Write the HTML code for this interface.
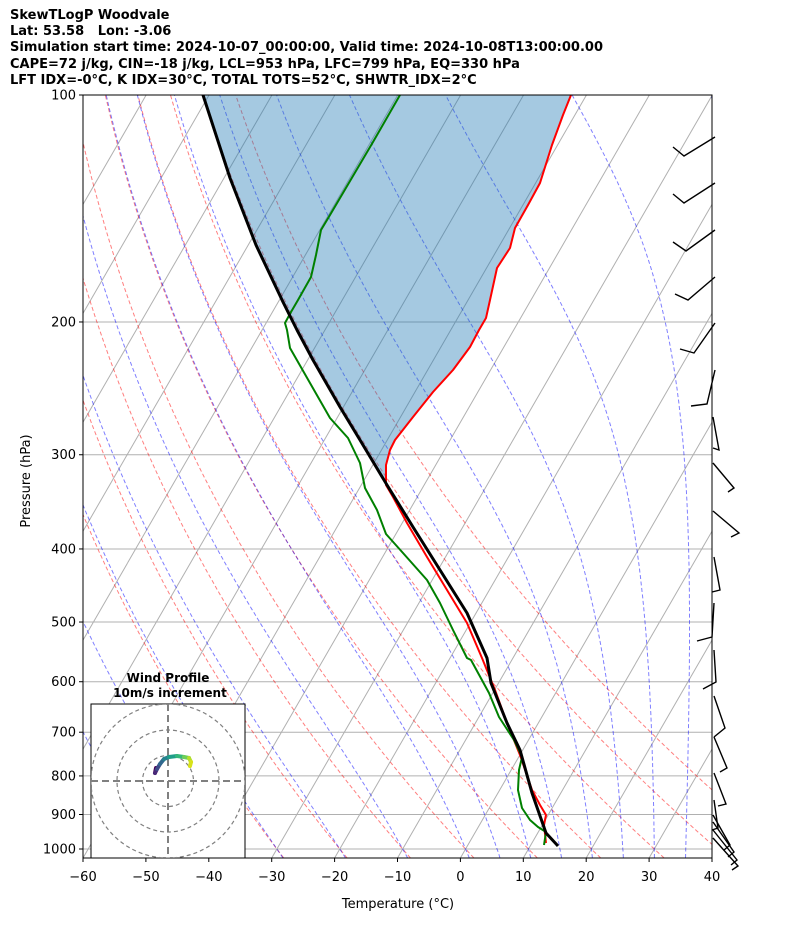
<!DOCTYPE html>
<html><head><meta charset="utf-8">
<style>
html,body{margin:0;padding:0;background:#fff;}
body{width:794px;height:937px;overflow:hidden;font-family:"DejaVu Sans","Liberation Sans",sans-serif;}
.t{position:absolute;left:10px;font-weight:bold;font-size:13px;white-space:nowrap;color:#000;}
</style></head><body>
<div class="t" style="top:8px">SkewTLogP Woodvale</div>
<div class="t" style="top:24px">Lat: 53.58&nbsp;&nbsp;&nbsp;Lon: -3.06</div>
<div class="t" style="top:40px">Simulation start time: 2024-10-07_00:00:00, Valid time: 2024-10-08T13:00:00.00</div>
<div class="t" style="top:57px">CAPE=72 j/kg, CIN=-18 j/kg, LCL=953 hPa, LFC=799 hPa, EQ=330 hPa</div>
<div class="t" style="top:73px">LFT IDX=-0°C, K IDX=30°C, TOTAL TOTS=52°C, SHWTR_IDX=2°C</div>
<svg id="s" width="794" height="937" style="position:absolute;left:0;top:0" xmlns="http://www.w3.org/2000/svg">
<defs><clipPath id="c"><rect x="83" y="95" width="629" height="763"/></clipPath>
<clipPath id="c2"><rect x="91" y="704" width="154" height="154"/></clipPath></defs>
<g id="bg" clip-path="url(#c)"></g>
<g id="fg" clip-path="url(#c)"></g>
<g id="ax"></g>
<g id="barbs" stroke="#000" stroke-width="1.4" fill="none"></g>
<text x="398" y="908" font-size="13" text-anchor="middle" font-family="DejaVu Sans, sans-serif">Temperature (°C)</text>
<text transform="translate(30,481) rotate(-90)" font-size="13" text-anchor="middle" font-family="DejaVu Sans, sans-serif">Pressure (hPa)</text>
<text x="168" y="682" font-size="12" font-weight="bold" text-anchor="middle" font-family="DejaVu Sans, sans-serif">Wind Profile</text>
<text x="170" y="697" font-size="12" font-weight="bold" text-anchor="middle" font-family="DejaVu Sans, sans-serif">10m/s increment</text>
<rect x="91" y="704" width="154" height="154" fill="#fff" stroke="#000" stroke-width="1"/>
<g id="hodo" clip-path="url(#c2)"></g>
</svg>
<script>
var NS='http://www.w3.org/2000/svg';
function el(p,t,a){var e=document.createElementNS(NS,t);for(var k in a)e.setAttribute(k,a[k]);p.appendChild(e);return e;}
function Y(p){return 95+754*Math.log10(p/100);}
function X(T,y){return 83+(T+60)*6.29+0.5774*(858-y);}
var bg=document.getElementById('bg'),fg=document.getElementById('fg'),ax=document.getElementById('ax');
var PB=100*Math.pow(10,763/754);
for(var T=-180;T<=40;T+=10){var y1=858,y2=95;el(bg,'line',{x1:X(T,y1),y1:y1,x2:X(T,y2),y2:y2,stroke:'#b0b0b0','stroke-width':1});}
[100,200,300,400,500,600,700,800,900,1000].forEach(function(p){el(bg,'line',{x1:83,x2:712,y1:Y(p),y2:Y(p),stroke:'#b0b0b0','stroke-width':1});});
var ps=[];for(var p=PB;p>=99;p-=5)ps.push(p);ps.push(100);
for(var t0=-30;t0<=50;t0+=10){var th=t0+273.15,d='';ps.forEach(function(p,i){var T=th*Math.pow(p/1000,0.2857)-273.15,y=Y(p);d+=(i?'L':'M')+X(T,y).toFixed(1)+','+y.toFixed(1);});
el(bg,'path',{d:d,fill:'none',stroke:'rgba(255,0,0,0.5)','stroke-width':1,'stroke-dasharray':'4,2.5'});}
function es(T){return 6.112*Math.exp(17.67*T/(T+243.5));}
function dTdp(p,Tk){var T=Tk-273.15,e=es(T),rs=0.622*e/(p-e),Rd=287.04,Lv=2.501e6,Cp=1005.7;
return (Rd*Tk+Lv*rs)/(Cp+Lv*Lv*rs*0.622/(Rd*Tk*Tk))/p;}
function integ(Tk,p0,p1,n){var pts=[],h=(p1-p0)/n,p=p0;for(var i=0;i<=n;i++){pts.push([p,Tk]);var k1=dTdp(p,Tk),k2=dTdp(p+h/2,Tk+h/2*k1),k3=dTdp(p+h/2,Tk+h/2*k2),k4=dTdp(p+h,Tk+h*k3);Tk+=h/6*(k1+2*k2+2*k3+k4);p+=h;}return pts;}
var mt=[-50,-40,-30,-20,-10,0,5,10,15,20,25,30,35,40,45];
mt.forEach(function(t0){var up=integ(t0+273.15,1000,100,180),dn=integ(t0+273.15,1000,PB,10);var pts=dn.reverse().concat(up.slice(1));var d='';pts.forEach(function(q,i){var y=Y(q[0]);d+=(i?'L':'M')+X(q[1]-273.15,y).toFixed(1)+','+y.toFixed(1);});
el(bg,'path',{d:d,fill:'none',stroke:'rgba(0,0,255,0.5)','stroke-width':1,'stroke-dasharray':'4,2.5'});});
function pl(a){return a.map(function(q){return q[0]+','+q[1];}).join(' ');}
var blk=[[203,95],[230,178],[256,245],[283,302],[297,330],[313,360],[340,407],[360,440],[387,485],[413,527],[440,570],[467,613],[487,658],[491,683],[507,723],[520,750],[532,793],[546,833],[558,846]];
var red=[[571,95],[563,115],[552,145],[540,183],[528,205],[515,228],[510,248],[497,268],[490,300],[486,318],[479,330],[470,347],[453,370],[433,392],[413,417],[395,440],[390,450],[386,465],[386,485],[393,497],[407,523],[427,557],[447,590],[467,623],[482,658],[495,690],[507,723],[520,755],[532,790],[540,805],[546,815],[544,825],[546,843]];
var grn=[[400,95],[373,142],[330,215],[321,230],[316,255],[311,277],[298,300],[291,312],[285,323],[287,330],[290,348],[310,383],[330,418],[348,438],[360,463],[365,488],[377,510],[386,534],[403,553],[427,580],[440,603],[453,630],[467,658],[471,660],[489,693],[499,717],[514,740],[522,757],[519,770],[518,790],[522,808],[530,820],[538,827],[546,832],[544,845]];
var fill=blk.slice(0,9).concat(red.slice(0,19).reverse());
el(fg,'polygon',{points:pl(fill),fill:'rgba(31,119,180,0.4)',stroke:'none'});
el(fg,'polyline',{points:pl(red),fill:'none',stroke:'#ff0000','stroke-width':2,'stroke-linejoin':'round'});
el(fg,'polyline',{points:pl(grn),fill:'none',stroke:'#008000','stroke-width':2,'stroke-linejoin':'round'});
el(fg,'polyline',{points:pl(blk),fill:'none',stroke:'#000','stroke-width':3,'stroke-linejoin':'round'});
el(ax,'rect',{x:83,y:95,width:629,height:763,fill:'none',stroke:'#000','stroke-width':1});
for(var i=0;i<=10;i++){var x=83+i*62.9;el(ax,'line',{x1:x,x2:x,y1:858,y2:862,stroke:'#000'});
var t=el(ax,'text',{x:x,y:881,'font-size':13,'text-anchor':'middle','font-family':'DejaVu Sans, sans-serif'});t.textContent=(i<6?'\u2212':'')+Math.abs(-60+i*10);if(i==6)t.textContent='0';}
[100,200,300,400,500,600,700,800,900,1000].forEach(function(p){var y=Y(p);el(ax,'line',{x1:79,x2:83,y1:y,y2:y,stroke:'#000'});var t=el(ax,'text',{x:76,y:y+4.5,'font-size':13,'text-anchor':'end','font-family':'DejaVu Sans, sans-serif'});t.textContent=p;});
var bb=document.getElementById('barbs');
var B=[[715,137,684,156,673,147],[715,183,684,203,673,194],[715,230,686,251,673,242],[715,277,688,300,675,294],[715,323,694,353,680,349],[715,370,707,404,691,406],[713,417,719,450,713,448],[713,463,734,488,728,492],[713,511,739,533,731,537],[714,557,720,590,712,592],[714,603,712,637,697,641],[714,650,716,682,703,689],[714,696,725,728,714,737],[714,737,727,768,720,772],[714,773,726,804,718,806],[714,800,718,828,712,830],[713,815,730,845,724,850],[713,822,734,852,728,857],[713,830,737,860,731,865],[713,838,738,866,732,870]];
B.forEach(function(b){el(bb,'polyline',{points:b[0]+','+b[1]+' '+b[2]+','+b[3]+' '+b[4]+','+b[5]});});
var h=document.getElementById('hodo'),cx=168,cy=781;
[25.5,51,77].forEach(function(r){el(h,'circle',{cx:cx,cy:cy,r:r,fill:'none',stroke:'#808080','stroke-width':1.2,'stroke-dasharray':'4,3'});});
el(h,'line',{x1:91,x2:245,y1:cy,y2:cy,stroke:'#808080','stroke-width':2,'stroke-dasharray':'7,4'});
el(h,'line',{x1:cx,x2:cx,y1:704,y2:858,stroke:'#808080','stroke-width':2,'stroke-dasharray':'7,4'});
var hp=[[156,768],[155,773],[157,769],[160,764],[164,759],[169,757],[177,756],[184,757],[189,758],[191,762],[190,766]];
var cols=['#440154','#482878','#3e4a89','#31688e','#26828e','#1f9e89','#35b779','#6ece58','#b5de2b','#d8e219','#fde725'];
for(var i=0;i<hp.length-1;i++)el(h,'line',{x1:hp[i][0],y1:hp[i][1],x2:hp[i+1][0],y2:hp[i+1][1],stroke:cols[i],'stroke-width':4,'stroke-linecap':'round'});
</script>
</body></html>
